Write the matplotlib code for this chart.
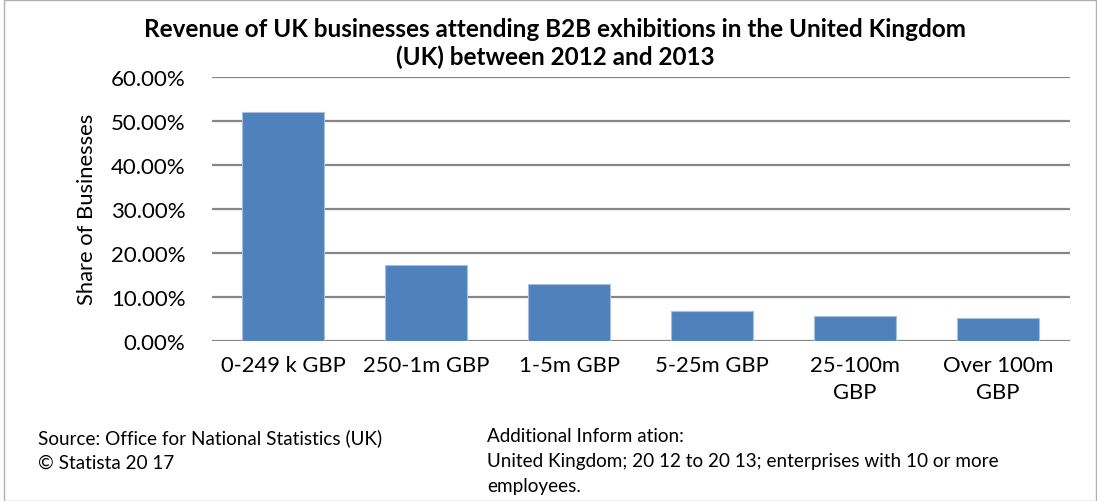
import numpy as np
import matplotlib.pyplot as plt
from matplotlib.ticker import FuncFormatter
from matplotlib.patches import Rectangle

plt.rcParams['font.family'] = ['Lato', 'DejaVu Sans']

categories = ['0-249 k GBP', '250-1m GBP', '1-5m GBP', '5-25m GBP',
              '25-100m\nGBP', 'Over 100m\nGBP']
shares = [52.1, 17.2, 12.9, 6.7, 5.6, 5.2]  # percent of businesses
yticks = [0, 10, 20, 30, 40, 50, 60]

fig = plt.figure(figsize=(10.97, 5.02), dpi=100)
ax = fig.add_axes([0.193, 0.319, 0.782, 0.526])

x = np.arange(len(categories))
ax.bar(x, shares, width=0.57, color='#4f81bd', edgecolor='#a7c0de',
       linewidth=0.8, zorder=3)

ax.set_xlim(-0.5, len(categories) - 0.5)
ax.set_ylim(0, 60)
ax.set_yticks(yticks)
ax.yaxis.set_major_formatter(FuncFormatter(lambda v, p: '%.2f%%' % v))
ax.set_xticks(x)
ax.set_xticklabels(categories, fontsize=15.8, linespacing=1.45)
ax.tick_params(axis='y', labelsize=16, length=0, pad=19)
ax.tick_params(axis='x', length=0, pad=10)

ax.grid(axis='y', color='#868686', linewidth=1.6, zorder=0)
for s in ax.spines.values():
    s.set_visible(False)

ax.set_ylabel('Share of Businesses', fontsize=15.8, labelpad=10)
ax.set_title('Revenue of UK businesses attending B2B exhibitions in the United Kingdom\n(UK) between 2012 and 2013',
             fontsize=17.5, fontweight='bold', x=0.40, pad=9, linespacing=1.25)

# footer notes
fs = 13.6
fig.text(0.035, 0.127, 'Source: Office for National Statistics (UK)', fontsize=fs, va='center')
fig.text(0.035, 0.077, '\u00a9 Statista 20 17', fontsize=fs, va='center')
fig.text(0.444, 0.131, 'Additional Inform ation:', fontsize=fs, va='center')
fig.text(0.444, 0.081, 'United Kingdom; 20 12 to 20 13; enterprises with 10 or more', fontsize=fs, va='center')
fig.text(0.444, 0.031, 'employees.', fontsize=fs, va='center')

# thin frame around the figure
fig.patches.append(Rectangle((0.004, 0.0), 0.995, 0.998, transform=fig.transFigure,
                             fill=False, edgecolor='#b0b0b0', linewidth=1))

fig.savefig('out.png', dpi=100)
